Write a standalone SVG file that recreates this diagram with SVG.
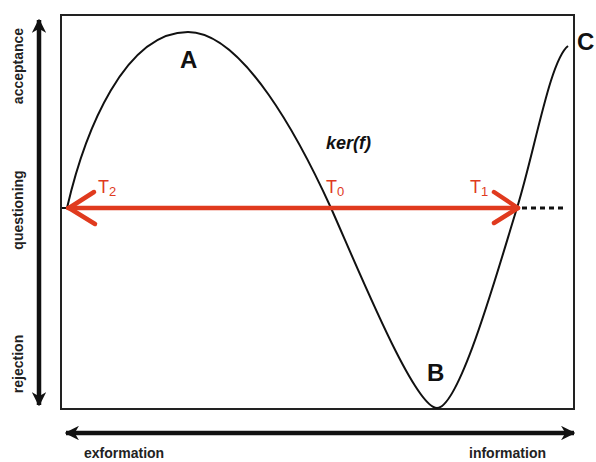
<svg xmlns="http://www.w3.org/2000/svg" width="596" height="462" viewBox="0 0 596 462">
<style>
.axis{stroke:#111;stroke-width:4.5;fill:none}
.lbl{font-family:"Liberation Sans",Arial,sans-serif;font-weight:bold;font-size:14px;fill:#222}
.big{font-family:"Liberation Sans",Arial,sans-serif;font-weight:bold;font-size:24px;fill:#111}
.red{font-family:"Liberation Sans",Arial,sans-serif;font-size:18px;fill:#e03a1e}
.redline{stroke:#e03a1e;stroke-width:4.5;fill:none;stroke-linecap:round;stroke-linejoin:round}
</style>
<defs>
<marker id="ah" viewBox="0 0 10 10" refX="9" refY="5" markerWidth="3.2" markerHeight="3.2" orient="auto-start-reverse" markerUnits="strokeWidth">
<path d="M0,0 L10,5 L0,10 L3,5 Z" fill="#111"/>
</marker>
</defs>
<rect width="596" height="462" fill="#fff"/>
<g id="frame">
<rect x="61" y="15" width="513" height="394" fill="none" stroke="#222" stroke-width="2"/>
</g>
<g id="axes">
<line class="axis" x1="39" y1="20" x2="39" y2="405" marker-start="url(#ah)" marker-end="url(#ah)"/>
<line class="axis" x1="66" y1="433" x2="574" y2="433" marker-start="url(#ah)" marker-end="url(#ah)"/>
</g>
<g id="axis-labels">
<text class="lbl" transform="translate(23,66) rotate(-90)" text-anchor="middle">acceptance</text>
<text class="lbl" transform="translate(23,210) rotate(-90)" text-anchor="middle">questioning</text>
<text class="lbl" transform="translate(23,364) rotate(-90)" text-anchor="middle">rejection</text>
<text class="lbl" x="84" y="458">exformation</text>
<text class="lbl" x="469" y="458">information</text>
</g>
<g id="curve">
<path d="M62,208 L67,208 C85,130 125,32 188,32 C243,32 300,140 331,208 C362,278 415,408 437,408 C460,408 500,262 517,208 C535,150 550,60 568,46" fill="none" stroke="#111" stroke-width="2"/>
</g>
<g id="connectors">
<line class="redline" x1="68" y1="208" x2="518" y2="208"/>
<polyline class="redline" points="94,192 69,208 95,224"/>
<polyline class="redline" points="494,192 518,208 494,223"/>
<line x1="522" y1="208" x2="566" y2="208" stroke="#111" stroke-width="3" stroke-dasharray="5,4"/>
</g>
<g id="labels">
<text class="big" x="180" y="68">A</text>
<text class="big" x="427" y="381">B</text>
<text class="big" x="577" y="50">C</text>
<text x="326" y="149" font-family="Liberation Sans,Arial,sans-serif" font-weight="bold" font-style="italic" font-size="18" fill="#111">ker(f)</text>
<text class="red" x="98" y="193">T<tspan font-size="13" dy="3">2</tspan></text>
<text class="red" x="326" y="193">T<tspan font-size="13" dy="3">0</tspan></text>
<text class="red" x="470" y="193">T<tspan font-size="13" dy="3">1</tspan></text>
</g>
</svg>
